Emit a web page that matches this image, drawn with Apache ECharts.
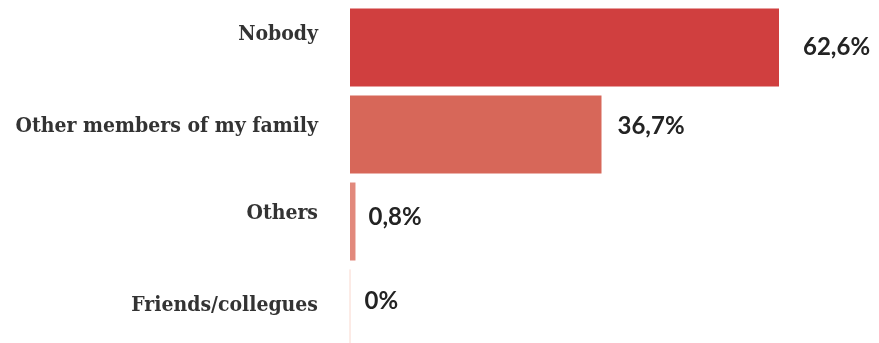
<!DOCTYPE html>
<html>
<head>
<meta charset="utf-8">
<script src="https://cdn.jsdelivr.net/npm/echarts@6/dist/echarts.min.js"></script>
<style>
  html, body { margin: 0; padding: 0; background: #ffffff; }
  #chart { width: 879px; height: 343px; }
</style>
</head>
<body>
<div id="chart"></div>
<script>
// Who helps with the care
const categories = ['Nobody', 'Other members of my family', 'Others', 'Friends/collegues'];
const shares = [62.6, 36.7, 0.8, 0];
const barColors = ['#d03f3f', '#d76759', '#e2897c', '#fbe4de'];

// small per-row nudges of the text (px, negative = up)
const catLift = [13, 8, 8, 3];
const valueOffsets = [[8, 0], [0, -8], [-3, -4], [-2, -7]];

const chart = echarts.init(document.getElementById('chart'));

const rich = {};
categories.forEach((c, i) => {
  rich['c' + i] = {
    color: '#333333',
    fontFamily: '"DejaVu Serif Condensed", "DejaVu Serif"',
    fontSize: 21,
    fontWeight: 'bold',
    padding: [0, 0, catLift[i] * 2, 0]
  };
});

chart.setOption({
  animation: false,
  grid: {
    left: 350, right: 100, top: 4, height: 348,
    containLabel: false,
    outerBoundsMode: 'none'
  },
  xAxis: {
    type: 'value',
    min: 0,
    max: 'dataMax',
    show: false
  },
  yAxis: {
    type: 'category',
    inverse: true,
    data: categories,
    axisLine: { show: false },
    axisTick: { show: false },
    axisLabel: {
      margin: 32,
      formatter: (value, idx) => '{c' + idx + '|' + value + '}',
      rich: rich
    }
  },
  series: [{
    type: 'bar',
    barWidth: 78,
    data: shares.map((v, i) => ({
      value: v,
      itemStyle: i === 3
        ? { color: barColors[i], borderColor: barColors[i], borderWidth: 1 }
        : { color: barColors[i] },
      label: { offset: valueOffsets[i] }
    })),
    label: {
      show: true,
      position: 'right',
      distance: 16,
      color: '#232323',
      fontFamily: 'Lato',
      fontWeight: 'bold',
      fontSize: 24,
      formatter: p => String(p.value).replace('.', ',') + '%'
    }
  }]
});
</script>
</body>
</html>
